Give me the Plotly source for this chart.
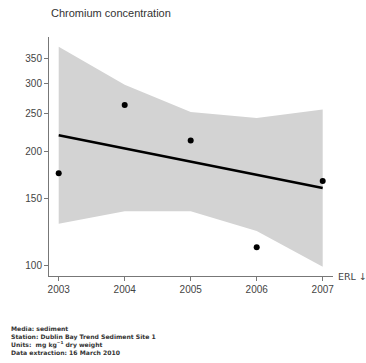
import plotly.graph_objects as go

# Observed chromium concentrations (mg/kg dry weight)
years = [2003, 2004, 2005, 2006, 2007]
concentration = [175, 264, 213, 112, 167]

# Confidence band around the fitted trend
band_upper = [375, 298, 253, 244, 257]
band_lower = [129, 139, 139, 123.5, 99.6]

# Fitted log-linear trend (straight on log axis)
trend_years = [2003, 2007]
trend_values = [220, 160]

y_ticks = [100, 150, 200, 250, 300, 350]
x_ticks = [2003, 2004, 2005, 2006, 2007]

footer_lines = [
    "Media: sediment",
    "Station: Dublin Bay Trend Sediment Site 1",
    "Units:  mg kg<sup>−1</sup> dry weight",
    "Data extraction: 16 March 2010",
]

fig = go.Figure()

fig.add_trace(go.Scatter(
    x=years + years[::-1], y=band_upper + band_lower[::-1],
    fill="toself", fillcolor="#d3d3d3", line=dict(width=0),
    mode="lines", hoverinfo="skip", showlegend=False))

fig.add_trace(go.Scatter(
    x=trend_years, y=trend_values, mode="lines",
    line=dict(color="black", width=2.5), showlegend=False))

fig.add_trace(go.Scatter(
    x=years, y=concentration, mode="markers",
    marker=dict(color="black", size=6), showlegend=False))

axis_font = dict(family="Arial, Liberation Sans, sans-serif", size=10, color="#444")

fig.update_xaxes(
    range=[2002.853, 2007.156], tickvals=x_ticks, ticktext=[str(v) for v in x_ticks],
    showgrid=False, zeroline=False, showline=True, linecolor="#777", linewidth=1,
    ticks="outside", ticklen=4, tickcolor="#777", tickfont=axis_font)

fig.update_yaxes(
    type="log", range=[1.9738, 2.5995], tickvals=y_ticks,
    ticktext=[str(v) for v in y_ticks],
    showgrid=False, zeroline=False, showline=True, linecolor="#777", linewidth=1,
    ticks="outside", ticklen=4, tickcolor="#777", tickfont=axis_font)

fig.add_annotation(
    text="Chromium concentration", xref="paper", yref="paper",
    x=0, y=1, xanchor="left", yanchor="bottom", yshift=16, showarrow=False,
    font=dict(family="Arial, Liberation Sans, sans-serif", size=11, color="#333"))

fig.add_annotation(
    text="ERL ↓", xref="paper", yref="paper", x=1, y=0, xanchor="left",
    yanchor="middle", xshift=3, showarrow=False,
    font=dict(family="DejaVu Sans, sans-serif", size=9.5, color="#444"))

fig.add_annotation(
    text="<br>".join(footer_lines), xref="paper", yref="paper", x=-0.137, y=0,
    yshift=-48, xanchor="left", yanchor="top", align="left", showarrow=False,
    borderpad=0,
    font=dict(family="DejaVu Sans, sans-serif", size=6.1, color="#333",
              weight="bold"))

fig.update_layout(
    width=366, height=363,
    margin=dict(l=49, r=33, t=37, b=87),
    plot_bgcolor="white", paper_bgcolor="white")

fig.write_html("out.html")
